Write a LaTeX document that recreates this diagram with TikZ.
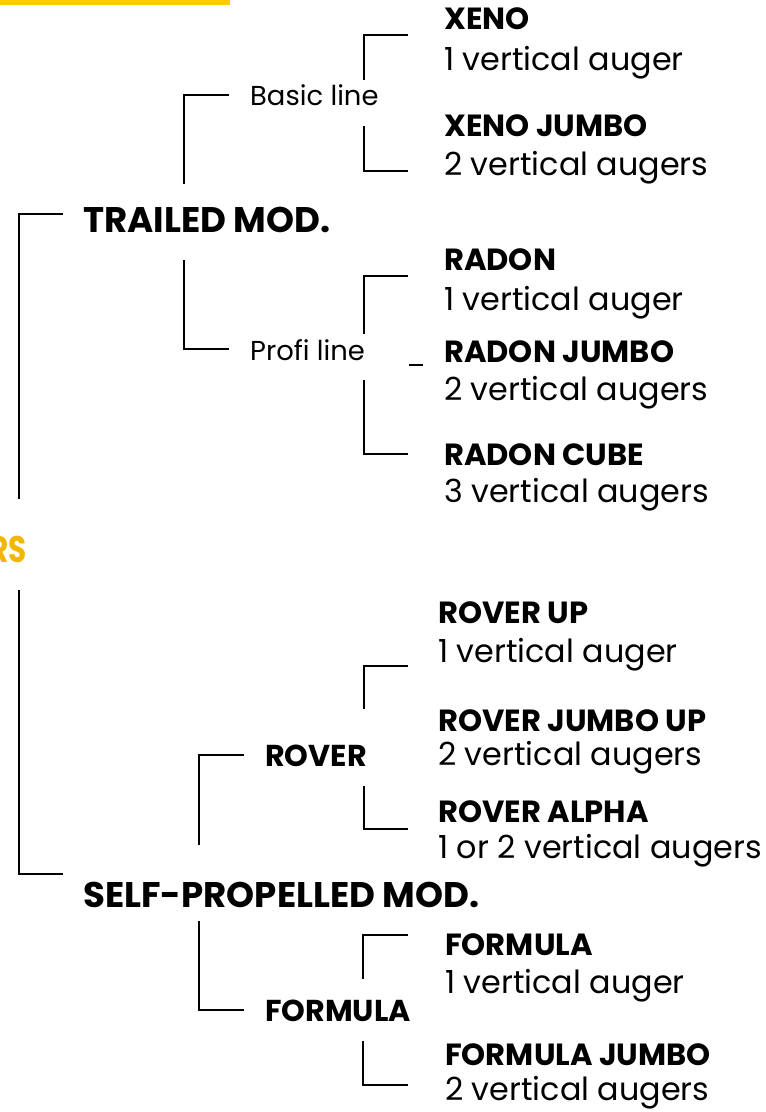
\documentclass[tikz,border=0pt]{standalone}
\usepackage{fontspec}
\setmainfont{Poppins}
\definecolor{bargold}{RGB}{255,204,0}
\definecolor{textgold}{RGB}{242,183,5}
\begin{document}
\begin{tikzpicture}[x=1pt, y=-1pt,
    link/.style={line width=1.8pt},
    group/.style={anchor=base west, inner sep=0pt, font=\fontsize{35.6}{40}\selectfont\bfseries},
    family/.style={anchor=base west, inner sep=0pt, font=\fontsize{30.2}{32}\selectfont\bfseries},
    series/.style={anchor=base west, inner sep=0pt, font=\fontsize{27.4}{32}\selectfont},
    model/.style={anchor=base west, inner sep=0pt, font=\fontsize{30.6}{32}\selectfont\bfseries},
    augers/.style={anchor=base west, inner sep=0pt, font=\fontsize{31.8}{32}\selectfont}]
  \useasboundingbox (0,0) rectangle (766,1112);
  \fill [bargold] (0,0) rectangle (230,5);

  \node (rs) [anchor=base east, inner sep=0pt, text=textgold,
    font=\fontsize{37}{40}\selectfont\bfseries] at (27,562) {\scalebox{0.8}[1]{RS}};

  % trailed branch
  \node (trailed) [group] at (83,232) {TRAILED MOD.};
  \node (basic) [series] at (250,105) {Basic line};
  \node (profi) [series] at (250,360) {Profi line};

  \node (xeno) [model] at (444,29) {XENO};
  \node (xeno-a) [augers] at (444,70) {1 vertical auger};
  \node (xenoj) [model] at (444,136) {XENO JUMBO};
  \node (xenoj-a) [augers] at (444,175) {2 vertical augers};

  \node (radon) [model] at (444,270) {RADON};
  \node (radon-a) [augers] at (444,310) {1 vertical auger};
  \node (radonj) [model] at (444,362) {RADON JUMBO};
  \node (radonj-a) [augers] at (444,400) {2 vertical augers};
  \node (radonc) [model] at (444,465) {RADON CUBE};
  \node (radonc-a) [augers] at (444,502) {3 vertical augers};

  % self-propelled branch
  \node (selfprop) [group] at (83,907) {SELF-PROPELLED MOD.};
  \node (rover) [family] at (265,766) {ROVER};
  \node (formula) [family] at (265,1021) {FORMULA};

  \node (roverup) [model] at (438,623) {ROVER UP};
  \node (roverup-a) [augers] at (438,662) {1 vertical auger};
  \node (roverj) [model] at (438,731) {ROVER JUMBO UP};
  \node (roverj-a) [augers] at (438,765) {2 vertical augers};
  \node (alpha) [model] at (438,822) {ROVER ALPHA};
  \node (alpha-a) [augers] at (438,858) {1 or 2 vertical augers};

  \node (form1) [model] at (445,955) {FORMULA};
  \node (form1-a) [augers] at (445,993) {1 vertical auger};
  \node (formj) [model] at (445,1065) {FORMULA JUMBO};
  \node (formj-a) [augers] at (445,1100) {2 vertical augers};

  % brackets
  \draw [link] ([shift={(-20,-18)}]trailed.base west) -| ([shift={(-8,-63)}]rs.base east);
  \draw [link] ([shift={(-20,-33)}]selfprop.base west) -| ([shift={(-8,28)}]rs.base east);

  \draw [link] ([shift={(-21,-10)}]basic.base west) -| ([shift={(101,-48)}]trailed.base west);
  \draw [link] ([shift={(-21,-11)}]profi.base west) -| ([shift={(101,28)}]trailed.base west);

  \draw [link] ([shift={(-36,6)}]xeno.base west) -| ([shift={(114,-25)}]basic.base west);
  \draw [link] ([shift={(-36,35)}]xenoj.base west) -| ([shift={(114,21)}]basic.base west);

  \draw [link] ([shift={(-36,6)}]radon.base west) -| ([shift={(114,-26)}]profi.base west);
  \draw [link] ([shift={(-35,3)}]radonj.base west) -- ([shift={(-21,3)}]radonj.base west);
  \draw [link] ([shift={(-36,-11)}]radonc.base west) -| ([shift={(114,20)}]profi.base west);

  \draw [link] ([shift={(-21,-11)}]rover.base west) -| ([shift={(116,-62)}]selfprop.base west);
  \draw [link] ([shift={(-21,-11)}]formula.base west) -| ([shift={(116,14)}]selfprop.base west);

  \draw [link] ([shift={(-30,43)}]roverup.base west) -| ([shift={(99,-57)}]rover.base west);
  \draw [link] ([shift={(-30,7)}]alpha.base west) -| ([shift={(99,20)}]rover.base west);

  \draw [link] ([shift={(-37,-20)}]form1.base west) -| ([shift={(98,-42)}]formula.base west);
  \draw [link] ([shift={(-37,20)}]formj.base west) -| ([shift={(98,20)}]formula.base west);
\end{tikzpicture}
\end{document}
